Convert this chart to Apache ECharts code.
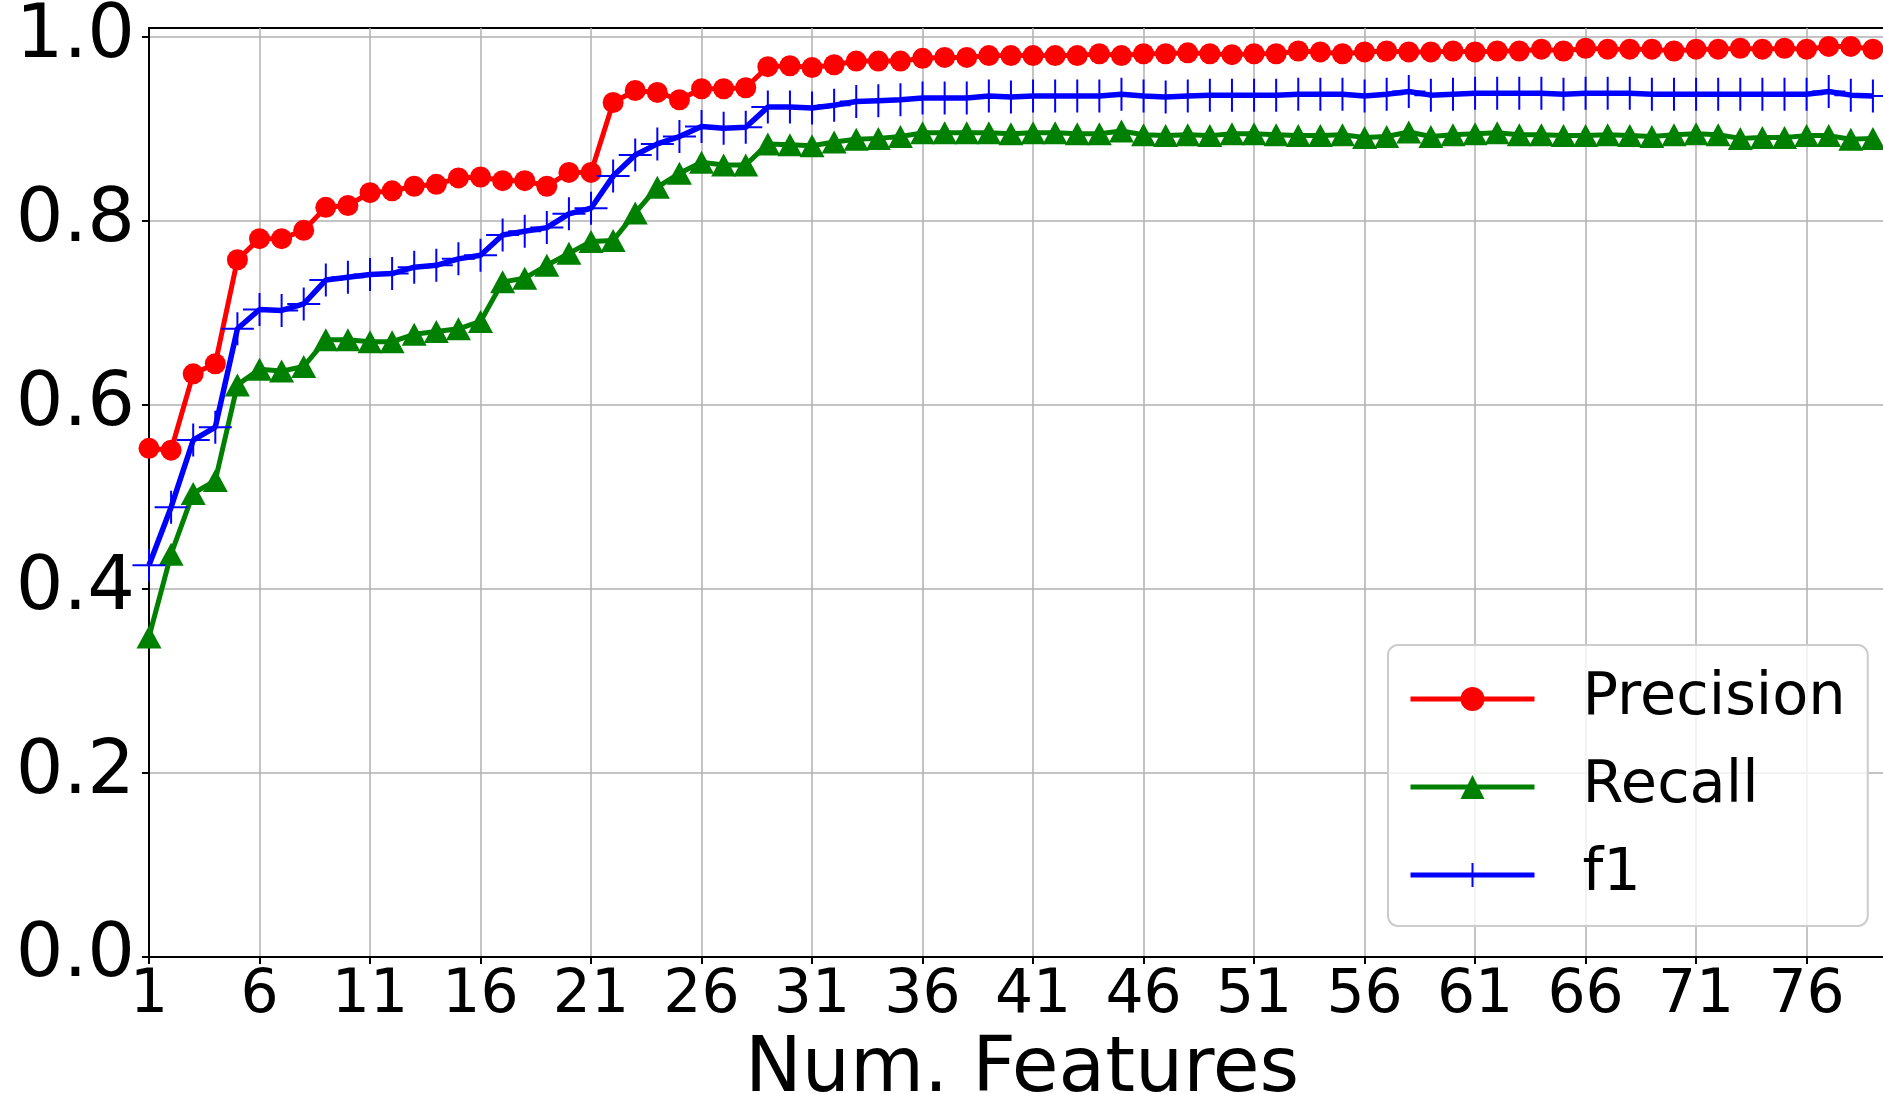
<!DOCTYPE html>
<html>
<head>
<meta charset="utf-8">
<script src="https://cdn.jsdelivr.net/npm/echarts@6/dist/echarts.min.js"></script>
<style>
html,body{margin:0;padding:0;background:#fff;}
#chart{width:1883px;height:1094px;}
</style>
</head>
<body>
<div id="chart"></div>
<script>
const numFeatures = [1,2,3,4,5,6,7,8,9,10,11,12,13,14,15,16,17,18,19,20,21,22,23,24,25,26,27,28,29,30,31,32,33,34,35,36,37,38,39,40,41,42,43,44,45,46,47,48,49,50,51,52,53,54,55,56,57,58,59,60,61,62,63,64,65,66,67,68,69,70,71,72,73,74,75,76,77,78,79];

const precision = [0.553,0.551,0.634,0.645,0.758,0.781,0.781,0.790,0.815,0.817,
0.831,0.833,0.838,0.840,0.847,0.848,0.844,0.844,0.838,0.853,
0.853,0.929,0.942,0.940,0.932,0.944,0.944,0.945,0.968,0.969,
0.967,0.970,0.974,0.974,0.974,0.977,0.978,0.978,0.980,0.980,
0.980,0.980,0.980,0.982,0.980,0.982,0.982,0.983,0.982,0.981,
0.982,0.982,0.985,0.984,0.982,0.984,0.985,0.984,0.984,0.985,
0.984,0.985,0.985,0.987,0.985,0.988,0.987,0.987,0.987,0.985,
0.987,0.987,0.988,0.987,0.988,0.987,0.990,0.990,0.987];

const recall = [0.348,0.438,0.504,0.518,0.622,0.639,0.637,0.642,0.671,0.671,
0.669,0.669,0.677,0.680,0.683,0.691,0.734,0.738,0.752,0.765,
0.778,0.779,0.809,0.837,0.852,0.864,0.861,0.861,0.884,0.883,
0.882,0.886,0.889,0.890,0.892,0.896,0.896,0.896,0.896,0.895,
0.896,0.896,0.895,0.895,0.898,0.894,0.893,0.894,0.893,0.895,
0.895,0.894,0.893,0.893,0.894,0.891,0.892,0.897,0.892,0.894,
0.895,0.896,0.894,0.894,0.893,0.893,0.894,0.893,0.892,0.894,
0.895,0.894,0.890,0.891,0.891,0.893,0.893,0.889,0.890];

const f1 = [0.426,0.489,0.562,0.576,0.683,0.704,0.703,0.710,0.736,0.739,
0.742,0.743,0.750,0.752,0.759,0.763,0.785,0.789,0.793,0.808,
0.814,0.849,0.872,0.884,0.892,0.903,0.901,0.902,0.924,0.924,
0.923,0.926,0.930,0.931,0.932,0.934,0.934,0.934,0.936,0.935,
0.936,0.936,0.936,0.936,0.938,0.936,0.935,0.936,0.937,0.937,
0.937,0.937,0.938,0.938,0.938,0.936,0.938,0.941,0.937,0.938,
0.939,0.939,0.939,0.939,0.938,0.939,0.939,0.939,0.938,0.938,
0.938,0.938,0.938,0.938,0.938,0.938,0.941,0.937,0.936];

const yTicks = [0, 0.2, 0.4, 0.6, 0.8, 1.0];
const seriesNames = ['Precision', 'Recall', 'f1'];

const FONT = 'DejaVu Sans';
const pairs = arr => arr.map((v, i) => [numFeatures[i], v]);

const chart = echarts.init(document.getElementById('chart'), null, {renderer: 'canvas'});
chart.setOption({
  animation: false,
  backgroundColor: '#ffffff',
  grid: {
    left: 149, top: 28, right: -12, bottom: 137,
    containLabel: false, outerBoundsMode: 'none',
    show: true, borderColor: '#000', borderWidth: 2, backgroundColor: 'transparent'
  },
  xAxis: {
    type: 'value', min: 1, max: 80, interval: 5,
    name: 'Num. Features', nameLocation: 'middle', nameGap: 76,
    nameTextStyle: {fontFamily: FONT, fontSize: 76, color: '#000'},
    axisLine: {show: true, onZero: false, lineStyle: {color: '#000', width: 2}},
    axisTick: {show: true, inside: false, length: 7, lineStyle: {color: '#000', width: 2}},
    axisLabel: {fontFamily: FONT, fontSize: 60, color: '#000', margin: 9, showMaxLabel: false},
    splitLine: {show: true, lineStyle: {color: '#b0b0b0', width: 1.5}}
  },
  yAxis: {
    type: 'value', min: 0, max: 1.01, interval: 0.2,
    axisLine: {show: true, onZero: false, lineStyle: {color: '#000', width: 2}},
    axisTick: {show: true, inside: false, length: 7, customValues: yTicks, lineStyle: {color: '#000', width: 2}},
    axisLabel: {fontFamily: FONT, fontSize: 75, color: '#000', margin: 14, customValues: yTicks,
      formatter: v => v.toFixed(1)},
    splitLine: {show: true, lineStyle: {color: '#b0b0b0', width: 1.5}}
  },
  legend: {
    orient: 'vertical', left: 1388, top: 645,
    data: seriesNames,
    padding: [24, 22, 21, 20],
    itemWidth: 124, itemHeight: 30, itemGap: 28,
    backgroundColor: 'rgba(255,255,255,0.8)',
    borderColor: '#cccccc', borderWidth: 2, borderRadius: 10,
    lineStyle: {width: 5},
    textStyle: {fontFamily: FONT, fontSize: 59, color: '#000', lineHeight: 60, padding: [0, 0, 0, 43]}
  },
  series: [
    {
      name: seriesNames[0], type: 'line', data: pairs(precision),
      color: '#ff0000', symbol: 'circle', symbolSize: 21, showAllSymbol: true,
      lineStyle: {color: '#ff0000', width: 5},
      itemStyle: {color: '#ff0000', borderWidth: 0}
    },
    {
      name: seriesNames[1], type: 'line', data: pairs(recall),
      color: '#008000', symbol: 'triangle', symbolSize: [25, 23], showAllSymbol: true,
      lineStyle: {color: '#008000', width: 5},
      itemStyle: {color: '#008000', borderWidth: 0}
    },
    {
      name: seriesNames[2], type: 'line', data: pairs(f1),
      color: '#0000ff', symbol: 'path://M10,0 L10,20 M0,10 L20,10', symbolSize: 33, showAllSymbol: true,
      lineStyle: {color: '#0000ff', width: 5.5},
      itemStyle: {color: '#0000ff', borderColor: '#0000ff', borderWidth: 2}
    }
  ]
});
</script>
</body>
</html>
